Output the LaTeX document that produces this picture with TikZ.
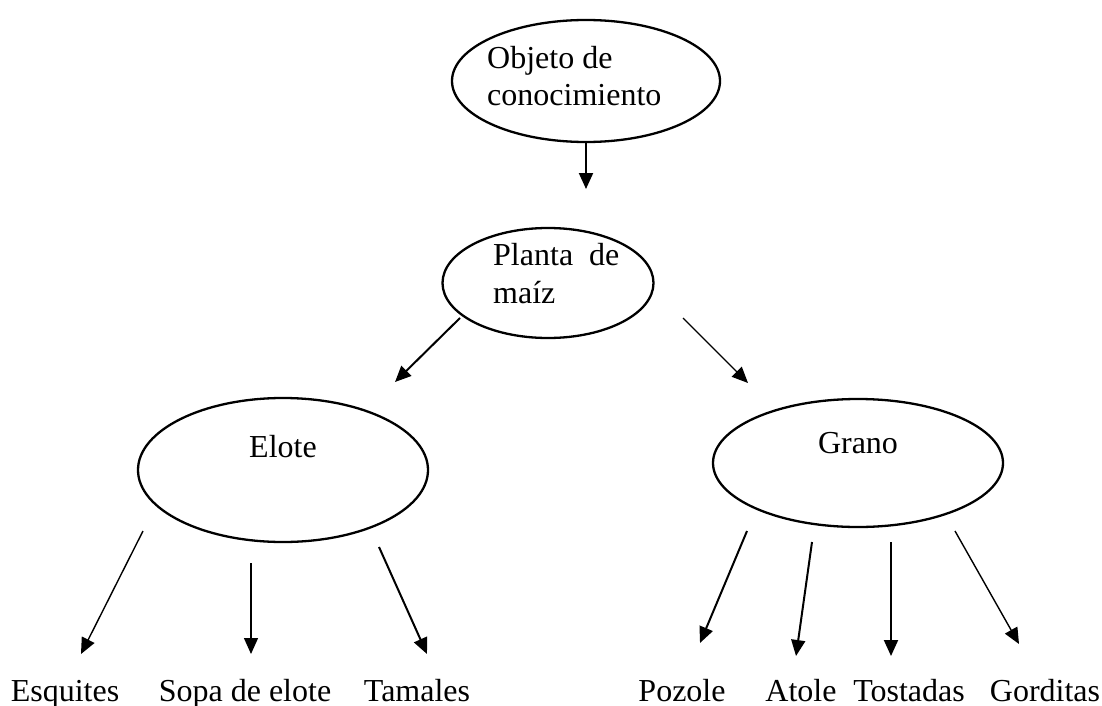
\documentclass[tikz,border=0pt]{standalone}
\usepackage{fontspec}
\setmainfont{Liberation Serif}
\usetikzlibrary{shapes.geometric,arrows.meta}
\begin{document}
\begin{tikzpicture}[x=1pt,y=-1pt,
  ell/.style={draw,ellipse,line width=2.3pt,inner sep=0pt},
  txt/.style={font=\fontsize{32}{37.5}\selectfont,inner sep=0pt},
  arr/.style={line width=2pt,-{Triangle[length=16pt,width=14pt]}},
  thin arr/.style={line width=1.4pt,-{Triangle[length=16pt,width=14pt]}}]
\useasboundingbox (0,0) rectangle (1102,706);
% ellipses
\node[ell,minimum width=268pt,minimum height=122pt] (obj) at (586,81) {};
\node[ell,minimum width=211pt,minimum height=110pt] (planta) at (548,283) {};
\node[ell,minimum width=290pt,minimum height=144pt] (elote) at (283,470) {};
\node[ell,minimum width=290pt,minimum height=128pt] (grano) at (858,463) {};
% texts in ellipses
\node[txt,anchor=base west,align=left] (objt) at (487,106) {Objeto de\\conocimiento};
\node[txt,anchor=base west,align=left] (plantat) at (493,303) {Planta\ \ de\\maíz};
\node[txt,anchor=base] (elotet) at (283,457) {Elote};
\node[txt,anchor=base] (granot) at (858,453) {Grano};
% leaf labels
\node[txt,anchor=base] (esq) at (65,701) {Esquites};
\node[txt,anchor=base] (sopa) at (245,701) {Sopa de elote};
\node[txt,anchor=base] (tam) at (417,701) {Tamales};
\node[txt,anchor=base] (poz) at (682,701) {Pozole};
\node[txt,anchor=base] (ato) at (801,701) {Atole};
\node[txt,anchor=base] (tos) at (909,701) {Tostadas};
\node[txt,anchor=base] (gor) at (1045,701) {Gorditas};
% arrow end points
\coordinate (objend) at (586,189);
\coordinate (pl1) at (460,318); \coordinate (pl1e) at (395,382);
\coordinate (pl2) at (683,318); \coordinate (pl2e) at (748,383);
\coordinate (e1) at (143,531); \coordinate (e1e) at (81,654);
\coordinate (e2) at (251,563); \coordinate (e2e) at (251,654);
\coordinate (e3) at (379,547); \coordinate (e3e) at (427,654);
\coordinate (g1) at (747,531); \coordinate (g1e) at (700,643);
\coordinate (g2) at (812,542); \coordinate (g2e) at (796,656);
\coordinate (g3) at (891,542); \coordinate (g3e) at (891,656);
\coordinate (g4) at (955,531); \coordinate (g4e) at (1019,644);
% connectors
\draw[arr] (obj.south) -- (objend);
\draw[arr] (pl1) -- (pl1e);
\draw[thin arr] (pl2) -- (pl2e);
\draw[thin arr] (e1) -- (e1e);
\draw[thin arr] (e2) -- (e2e);
\draw[arr] (e3) -- (e3e);
\draw[arr] (g1) -- (g1e);
\draw[arr] (g2) -- (g2e);
\draw[arr] (g3) -- (g3e);
\draw[thin arr] (g4) -- (g4e);
\end{tikzpicture}
\end{document}
